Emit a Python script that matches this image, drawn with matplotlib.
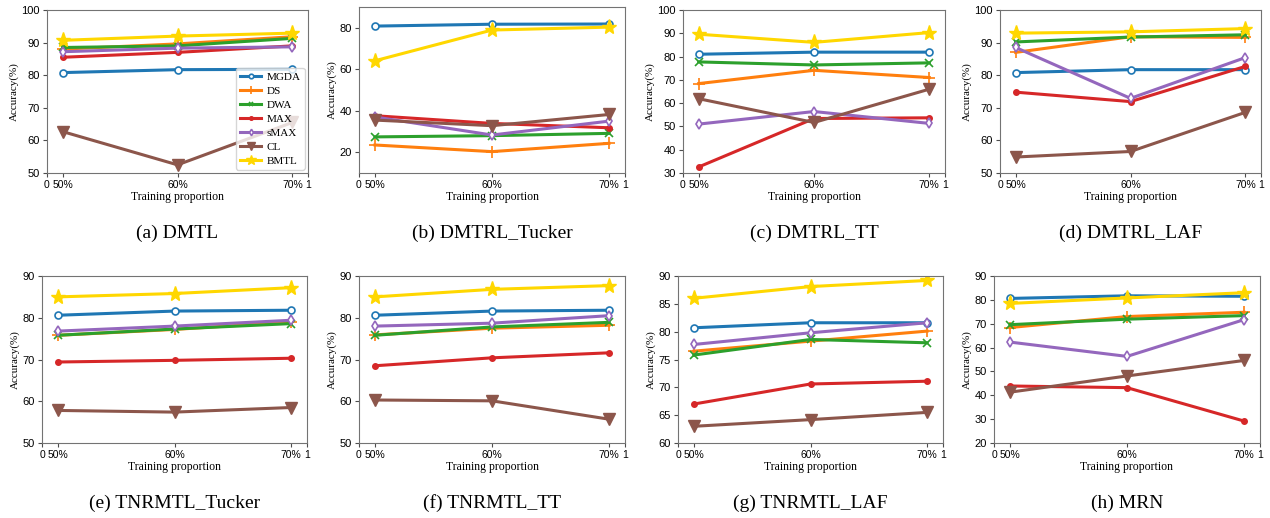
from matplotlib import pyplot as plt
import numpy as np

# x positions of the three training proportions (axis runs 0..1)
x_pos = [0.06, 0.5, 0.94]
x_labels = ['50%', '60%', '70%']

methods = ['MGDA', 'DS', 'DWA', 'MAX', 'sMAX', 'CL', 'BMTL']
colors = ['#1f77b4', '#ff7f0e', '#2ca02c', '#d62728', '#9467bd', '#8c564b', '#ffd700']

# accuracy (%) per panel, one row per method in the order above
dmtl = [[80.8, 81.7, 81.8], [88.0, 89.6, 91.8], [88.5, 89.0, 91.3], [85.5, 87.0, 89.0],
        [87.2, 88.3, 88.7], [62.7, 52.5, 65.5], [90.7, 92.0, 92.9]]
dmtrl_tucker = [[80.8, 81.7, 81.8], [23.5, 20.3, 24.3], [27.4, 28.0, 29.1], [37.6, 33.9, 31.8],
                [37.0, 28.3, 35.0], [35.5, 32.8, 38.2], [64.1, 78.9, 80.3]]
dmtrl_tt = [[81.0, 81.9, 81.9], [68.4, 74.1, 71.0], [77.7, 76.4, 77.3], [32.6, 53.4, 53.7],
            [51.0, 56.4, 51.3], [61.9, 51.7, 66.0], [89.6, 86.1, 90.3]]
dmtrl_laf = [[80.8, 81.7, 81.7], [87.0, 91.8, 91.6], [90.2, 91.7, 92.4], [74.8, 71.9, 82.7],
             [88.5, 72.9, 85.4], [54.9, 56.6, 68.6], [92.9, 93.3, 94.3]]
tnrmtl_tucker = [[80.6, 81.6, 81.8], [75.8, 77.2, 79.0], [75.8, 77.3, 78.6], [69.4, 69.8, 70.3],
                 [76.8, 78.0, 79.4], [57.8, 57.4, 58.5], [85.0, 85.8, 87.2]]
tnrmtl_tt = [[80.6, 81.6, 81.8], [75.9, 77.5, 78.2], [75.8, 77.8, 78.9], [68.5, 70.4, 71.6],
             [78.0, 78.7, 80.5], [60.3, 60.1, 55.7], [85.0, 86.8, 87.7]]
tnrmtl_laf = [[80.7, 81.6, 81.6], [76.5, 78.3, 80.1], [75.8, 78.6, 78.0], [67.0, 70.6, 71.1],
              [77.7, 79.8, 81.6], [63.0, 64.2, 65.5], [86.0, 88.1, 89.2]]
mrn = [[80.6, 81.7, 81.5], [68.4, 73.0, 74.8], [69.6, 71.9, 73.4], [43.9, 43.2, 29.2],
       [62.3, 56.3, 71.7], [41.3, 48.1, 54.6], [78.5, 80.8, 83.0]]

panels = [dmtl, dmtrl_tucker, dmtrl_tt, dmtrl_laf, tnrmtl_tucker, tnrmtl_tt, tnrmtl_laf, mrn]
captions = ['(a) DMTL', '(b) DMTRL_Tucker', '(c) DMTRL_TT', '(d) DMTRL_LAF',
            '(e) TNRMTL_Tucker', '(f) TNRMTL_TT', '(g) TNRMTL_LAF', '(h) MRN']
ylims = [(50, 100), (10, 90), (30, 100), (50, 100), (50, 90), (50, 90), (60, 90), (20, 90)]
yticks = [np.arange(50, 101, 10), [20, 40, 60, 80], np.arange(30, 101, 10), np.arange(50, 101, 10),
          np.arange(50, 91, 10), np.arange(50, 91, 10), np.arange(60, 91, 5), np.arange(20, 91, 10)]

# axes boxes in pixels: left, right, top, bottom
W, H = 1270, 518
boxes = [(47, 308, 10, 173), (359, 625, 7, 173), (683, 945, 10, 173), (1000, 1261, 10, 173),
         (42, 307, 276, 443), (359, 625, 276, 443), (678, 943, 276, 443), (994, 1260, 276, 443)]

markers = dict(
    MGDA=dict(marker='o', ms=5, mfc='white', mew=1.2),
    DS=dict(marker='+', ms=9, mew=1.2),
    DWA=dict(marker='x', ms=5.5, mew=1.2),
    MAX=dict(marker='.', ms=8),
    sMAX=dict(marker='d', ms=5, mfc='white', mew=1.2),
    CL=dict(marker='v', ms=8.5),
    BMTL=dict(marker='*', ms=11),
)

serif = ['Liberation Serif', 'DejaVu Serif']
sans = ['Liberation Sans', 'DejaVu Sans']

fig = plt.figure(figsize=(W / 100, H / 100), dpi=100)

for i, data in enumerate(panels):
    l, r, t, b = boxes[i]
    ax = fig.add_axes([l / W, 1 - b / H, (r - l) / W, (b - t) / H])
    for m, c, vals in zip(methods, colors, data):
        ax.plot(x_pos, vals, color=c, lw=2.2, label=m, **markers[m])
    ax.set_xlim(0, 1)
    ax.set_ylim(*ylims[i])
    ax.set_xticks([0] + x_pos + [1])
    ax.set_xticklabels(['0'] + x_labels + ['1'], family=sans, fontsize=7.5)
    ax.set_yticks(yticks[i])
    ax.set_yticklabels([str(v) for v in yticks[i]], family=sans, fontsize=8)
    ax.tick_params(length=3, width=0.8, pad=2, color='0.3')
    ax.set_xlabel('Training proportion', family=serif, fontsize=8.5, labelpad=1)
    ax.set_ylabel('Accuracy(%)', family=serif, fontsize=8, labelpad=2)
    for s in ax.spines.values():
        s.set_color('0.45')
        s.set_linewidth(0.8)
    fig.text((l + r) / 2 / W, 1 - (b + 60) / H, captions[i], family=serif, fontsize=14,
             ha='center', va='center')
    if i == 0:
        ax.legend(loc='lower right', prop={'family': serif, 'size': 8}, framealpha=0.8,
                  borderpad=0.35, labelspacing=0.38, handlelength=1.9, handletextpad=0.5,
                  borderaxespad=0.3, markerscale=0.65)

fig.savefig('out.png', dpi=100)
